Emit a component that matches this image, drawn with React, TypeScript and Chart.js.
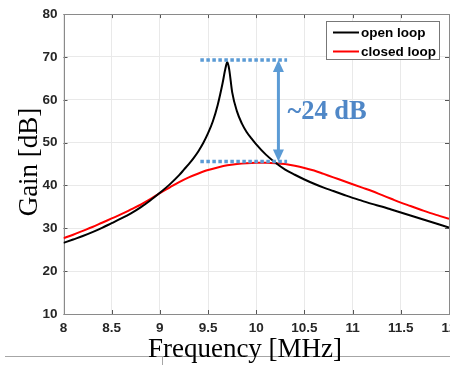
import { useEffect, useRef } from "react";
import { Chart, registerables } from "chart.js";

Chart.register(...registerables);

// ---- data ----
const seriesLabels = ["open loop", "closed loop"];
const seriesColors = ["#000000", "#ff0000"];

const openFreq = [
  8.0, 8.1, 8.2, 8.3, 8.4, 8.5, 8.6, 8.7, 8.8, 8.9, 9.0, 9.1, 9.2, 9.25, 9.3, 9.35, 9.4, 9.45, 9.5,
  9.55, 9.6, 9.65, 9.68, 9.7, 9.72, 9.75, 9.8, 9.85, 9.9, 9.95, 10.0, 10.1, 10.2, 10.3, 10.4,
  10.5, 10.6, 10.7, 10.8, 10.9, 11.0, 11.1, 11.2, 11.3, 11.4, 11.5, 11.6, 11.7, 11.8, 11.9, 12.0,
];
const openGain = [
  26.6, 27.4, 28.2, 29.1, 30.1, 31.2, 32.3, 33.5, 34.9, 36.5, 38.3, 40.2, 42.4, 43.7, 45.0, 46.4, 48.0, 49.9, 52.2,
  55.0, 58.8, 63.8, 67.3, 68.8, 67.0, 61.8, 57.3, 54.5, 52.5, 51.0, 49.6, 47.2, 45.3, 43.7, 42.5,
  41.4, 40.4, 39.5, 38.7, 37.9, 37.1, 36.4, 35.7, 35.1, 34.4, 33.7, 33.0, 32.3, 31.6, 30.9, 30.2,
];

const closedFreq = [
  8.0, 8.1, 8.2, 8.3, 8.4, 8.5, 8.6, 8.7, 8.8, 8.9, 9.0, 9.1, 9.2, 9.3, 9.4, 9.5, 9.6, 9.7, 9.8, 9.9,
  10.0, 10.1, 10.2, 10.3, 10.4, 10.5, 10.6, 10.7, 10.8, 10.9, 11.0, 11.1, 11.2, 11.3, 11.4, 11.5,
  11.6, 11.7, 11.8, 11.9, 12.0,
];
const closedGain = [
  27.7, 28.5, 29.4, 30.3, 31.3, 32.3, 33.3, 34.4, 35.5, 36.8, 38.2, 39.5, 40.8, 41.9, 42.8, 43.6, 44.2, 44.7, 45.0, 45.2,
  45.3, 45.3, 45.2, 45.0, 44.6, 44.1, 43.5, 42.7, 41.9, 41.1, 40.3, 39.5, 38.7, 37.8, 36.9, 36.0,
  35.2, 34.4, 33.6, 32.9, 32.2,
];

const xTicks = [8, 8.5, 9, 9.5, 10, 10.5, 11, 11.5, 12];
const yTicks = [10, 20, 30, 40, 50, 60, 70, 80];

const xTitle = "Frequency [MHz]";
const yTitle = "Gain [dB]";

// annotation (data coordinates)
const annTopGain = 69.3;
const annBottomGain = 45.6;
const annFreqStart = 9.42;
const annFreqEnd = 10.32;
const annArrowFreq = 10.23;
const annText = "~24 dB";

const tickFont = "'Liberation Sans', Arial, sans-serif";
const serif = "'Liberation Serif', 'Times New Roman', serif";
const annColor = "#5b9bd5";

const decorPlugin = {
  id: "decor",
  beforeDatasetsDraw(chart: any) {
    const { ctx, chartArea: a, scales } = chart;
    const x = scales.x;
    const y = scales.y;
    ctx.save();
    ctx.strokeStyle = "#555555";
    ctx.lineWidth = 1;
    xTicks.forEach((v) => {
      const px = Math.round(x.getPixelForValue(v)) + 0.5;
      ctx.beginPath();
      ctx.moveTo(px, a.bottom);
      ctx.lineTo(px, a.bottom - 4);
      ctx.moveTo(px, a.top);
      ctx.lineTo(px, a.top + 4);
      ctx.stroke();
    });
    yTicks.forEach((v) => {
      const py = Math.round(y.getPixelForValue(v)) + 0.5;
      ctx.beginPath();
      ctx.moveTo(a.left, py);
      ctx.lineTo(a.left + 4, py);
      ctx.moveTo(a.right, py);
      ctx.lineTo(a.right - 4, py);
      ctx.stroke();
    });
    ctx.strokeStyle = "#8a8a8a";
    ctx.strokeRect(Math.round(a.left) + 0.5, Math.round(a.top) + 0.5, Math.round(a.right - a.left) - 1, Math.round(a.bottom - a.top));
    ctx.restore();
  },
  afterDatasetsDraw(chart: any) {
    const { ctx, scales } = chart;
    const x = scales.x;
    const y = scales.y;
    ctx.save();

    // annotation dotted lines
    const x1 = x.getPixelForValue(annFreqStart);
    const x2 = x.getPixelForValue(annFreqEnd);
    const yTop = y.getPixelForValue(annTopGain);
    const yBot = y.getPixelForValue(annBottomGain);
    ctx.strokeStyle = annColor;
    ctx.lineWidth = 3.5;
    ctx.setLineDash([3.5, 2.5]);
    [yTop, yBot].forEach((py) => {
      ctx.beginPath();
      ctx.moveTo(x1, py);
      ctx.lineTo(x2, py);
      ctx.stroke();
    });
    ctx.setLineDash([]);

    // double arrow
    const ax = x.getPixelForValue(annArrowFreq);
    const head = 12;
    const hw = 5.5;
    ctx.lineWidth = 3;
    ctx.beginPath();
    ctx.moveTo(ax, yTop + head - 1);
    ctx.lineTo(ax, yBot - head + 1);
    ctx.stroke();
    ctx.fillStyle = annColor;
    ctx.beginPath();
    ctx.moveTo(ax, yTop);
    ctx.lineTo(ax - hw, yTop + head);
    ctx.lineTo(ax + hw, yTop + head);
    ctx.closePath();
    ctx.fill();
    ctx.beginPath();
    ctx.moveTo(ax, yBot);
    ctx.lineTo(ax - hw, yBot - head);
    ctx.lineTo(ax + hw, yBot - head);
    ctx.closePath();
    ctx.fill();

    ctx.font = `bold 26.5px ${serif}`;
    ctx.textAlign = "left";
    ctx.textBaseline = "middle";
    ctx.fillStyle = "#4f87c7";
    ctx.fillText(annText, ax + 9, (yTop + yBot) / 2 + 1);

    // legend
    const lx = 326.5;
    const ly = 21.5;
    ctx.fillStyle = "#ffffff";
    ctx.fillRect(lx, ly, 113, 38);
    ctx.strokeStyle = "#777777";
    ctx.lineWidth = 1;
    ctx.strokeRect(lx, ly, 113, 38);
    ctx.font = `bold 13.5px ${tickFont}`;
    ctx.textBaseline = "middle";
    seriesLabels.forEach((lab, i) => {
      const ry = 32.5 + i * 19;
      ctx.strokeStyle = seriesColors[i];
      ctx.lineWidth = 2;
      ctx.beginPath();
      ctx.moveTo(333, ry);
      ctx.lineTo(359, ry);
      ctx.stroke();
      ctx.fillStyle = "#000000";
      ctx.fillText(lab, 361, ry + 0.5);
    });

    // bottom rule (slide artifact)
    ctx.strokeStyle = "#a6a6a6";
    ctx.lineWidth = 1;
    ctx.beginPath();
    ctx.moveTo(5, 356.5);
    ctx.lineTo(450, 356.5);
    ctx.moveTo(162.5, 356.5);
    ctx.lineTo(162.5, 365);
    ctx.stroke();

    // axis titles
    ctx.fillStyle = "#000000";
    ctx.font = `27px ${serif}`;
    ctx.textAlign = "center";
    ctx.textBaseline = "alphabetic";
    ctx.fillText(xTitle, 245, 357);
    ctx.save();
    ctx.translate(37, 162);
    ctx.rotate(-Math.PI / 2);
    ctx.fillText(yTitle, 0, 0);
    ctx.restore();

    ctx.restore();
  },
};

export default function App() {
  const ref = useRef<HTMLCanvasElement | null>(null);
  useEffect(() => {
    if (!ref.current) return;
    const chart = new Chart(ref.current, {
      type: "line",
      data: {
        datasets: [
          {
            label: seriesLabels[0],
            data: openFreq.map((f, i) => ({ x: f, y: openGain[i] })),
            borderColor: seriesColors[0],
            borderWidth: 2,
            pointRadius: 0,
            cubicInterpolationMode: "monotone",
          },
          {
            label: seriesLabels[1],
            data: closedFreq.map((f, i) => ({ x: f, y: closedGain[i] })),
            borderColor: seriesColors[1],
            borderWidth: 2,
            pointRadius: 0,
            cubicInterpolationMode: "monotone",
          },
        ],
      },
      options: {
        responsive: false,
        animation: false,
        layout: { padding: { top: 13, right: 31, left: 0, bottom: 0 } },
        plugins: { legend: { display: false }, tooltip: { enabled: false } },
        scales: {
          x: {
            type: "linear",
            min: 8,
            max: 12,
            afterBuildTicks: (s: any) => {
              s.ticks = xTicks.map((v) => ({ value: v }));
            },
            afterFit: (s: any) => {
              s.height = 51;
            },
            grid: { color: "#e9e9e9", drawTicks: false },
            border: { display: false },
            ticks: {
              padding: 6,
              maxRotation: 0,
              autoSkip: false,
              color: "#262626",
              font: { family: tickFont, size: 13.5, weight: "bold" },
              callback: (v: any) => String(v),
            },
          },
          y: {
            type: "linear",
            min: 10,
            max: 80,
            afterBuildTicks: (s: any) => {
              s.ticks = yTicks.map((v) => ({ value: v }));
            },
            afterFit: (s: any) => {
              s.width = 63.5;
            },
            grid: { color: "#e9e9e9", drawTicks: false },
            border: { display: false },
            ticks: {
              padding: 6,
              color: "#262626",
              font: { family: tickFont, size: 13.5, weight: "bold" },
              callback: (v: any) => String(v),
            },
          },
        },
      },
      plugins: [decorPlugin],
    } as any);
    return () => chart.destroy();
  }, []);

  return (
    <div style={{ position: "fixed", left: 0, top: 0, width: 450, height: 365, overflow: "hidden", background: "#fff" }}>
      <canvas ref={ref} width={480} height={365} style={{ display: "block" }} />
    </div>
  );
}
